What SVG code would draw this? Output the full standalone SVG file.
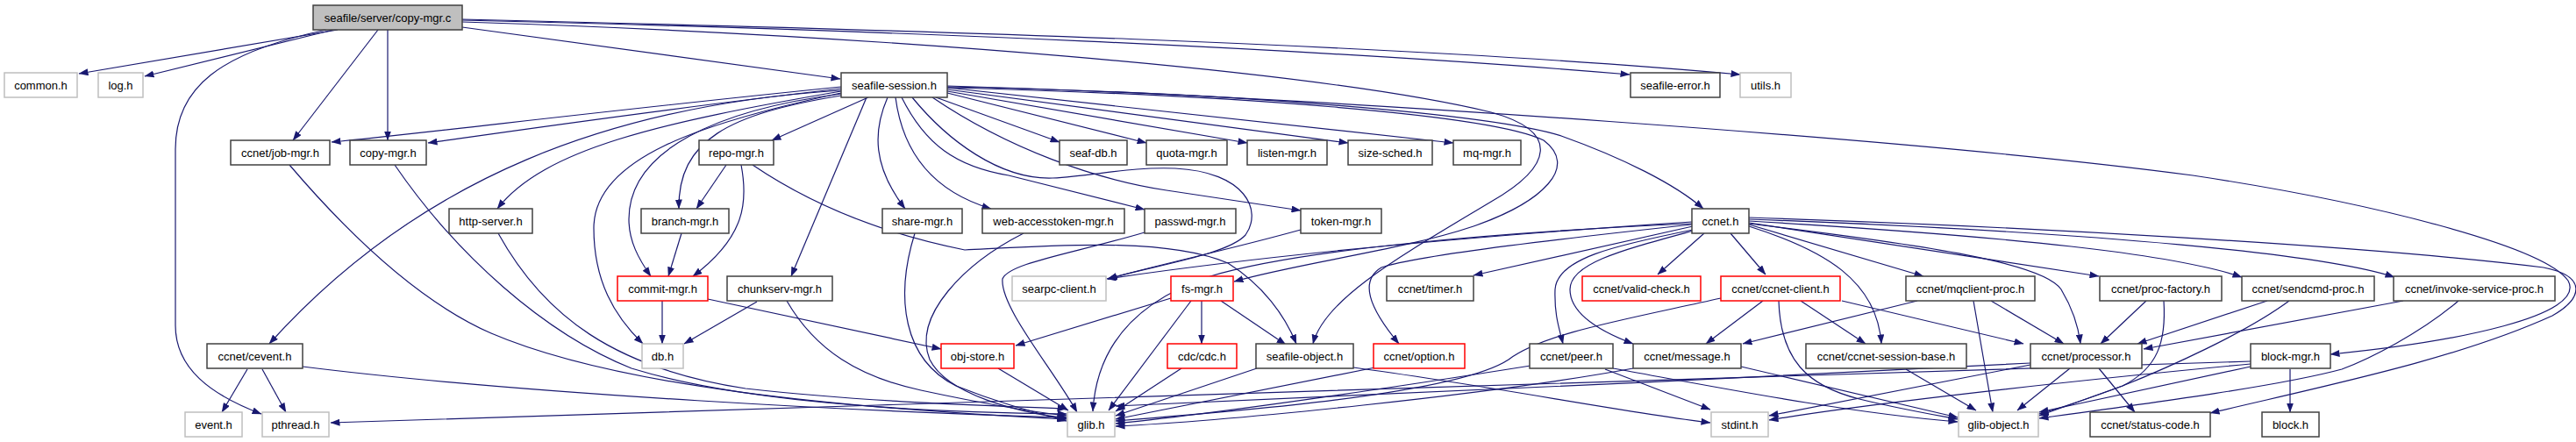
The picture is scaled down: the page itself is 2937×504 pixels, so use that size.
<svg xmlns="http://www.w3.org/2000/svg" width="2937" height="504" viewBox="0 0 2937 504">
<style>
text{font-family:"Liberation Sans",Arial,Helvetica,sans-serif;font-size:13px;text-anchor:middle;fill:#000}
.n rect{fill:#fff;stroke:#404040;stroke-width:1.5}
.g rect{fill:#fff;stroke:#bfbfbf;stroke-width:1.5}
.r rect{fill:#fff;stroke:#ff0000;stroke-width:1.5}
.root rect{fill:#bfbfbf;stroke:#404040;stroke-width:1.5}
#edges path{fill:none;stroke:#191970;stroke-width:1.2;marker-end:url(#ah)}
</style>
<defs>
<marker id="ah" viewBox="0 0 11 8" refX="10.5" refY="4" markerWidth="11" markerHeight="8" markerUnits="userSpaceOnUse" orient="auto">
<path d="M0,0 L11,4 L0,8 z" fill="#191970"/>
</marker>
</defs>
<rect width="2937" height="504" fill="#fff"/>
<g id="edges">
<!-- root -->
<path d="M385,34 L90,84"/>
<path d="M380,34 L165,87"/>
<path d="M372,34 C250,60 200,100 200,170 L200,371 C200,420 240,450 298,472"/>
<path d="M431,34 L334,160"/>
<path d="M442,34 L442,160"/>
<path d="M527,31 L958,90"/>
<path d="M527,22 C1000,33 1600,50 1984,85"/>
<path d="M527,23 C1000,34 1500,55 1858,85"/>
<path d="M527,25 C1000,40 1500,80 1700,128 C1780,150 1770,190 1700,230 C1600,290 1510,340 1497,392"/>
<!-- seafile-session -->
<path d="M959,99 C700,125 500,150 378,162"/>
<path d="M959,101 C750,125 580,150 488,163"/>
<path d="M959,103 C700,120 480,200 307,392"/>
<path d="M959,104 C750,140 620,170 567,238"/>
<path d="M959,106 C800,140 677,180 677,260 C677,320 700,360 733,392"/>
<path d="M959,107 C820,125 717,170 717,250 C717,275 728,295 742,315"/>
<path d="M959,109 C830,130 773,160 774,238"/>
<path d="M990,111 L880,160"/>
<path d="M988,111 L902,315"/>
<path d="M1012,111 C995,150 995,190 1032,238"/>
<path d="M1021,111 C1030,180 1070,220 1130,238"/>
<path d="M1028,111 C1055,165 1090,190 1150,200 L1305,239"/>
<path d="M1040,111 C1080,160 1140,205 1200,203 C1250,200 1290,190 1340,192 C1420,196 1440,240 1420,268 C1400,290 1320,302 1263,318"/>
<path d="M1063,111 C1150,170 1250,205 1330,217 L1483,240"/>
<path d="M1067,111 L1208,162"/>
<path d="M1080,106 L1307,163"/>
<path d="M1080,104 L1422,163"/>
<path d="M1080,102 L1537,163"/>
<path d="M1080,100 L1657,163"/>
<path d="M1080,99 C1400,105 1700,130 1780,155 C1850,180 1910,210 1942,238"/>
<path d="M1080,98 C1500,110 2200,160 2500,200 C2700,230 2900,280 2928,320 C2950,360 2800,390 2657,404"/>
<path d="M1080,100 C1400,108 1700,130 1760,160 C1800,190 1760,230 1680,258 C1600,285 1480,300 1407,321"/>
<!-- ccnet.h -->
<path d="M1929,256 C1800,270 1620,290 1575,305 C1550,320 1560,350 1595,392"/>
<path d="M1929,253 C1700,268 1450,290 1262,318"/>
<path d="M1929,255 C1700,265 1480,285 1380,315 C1290,345 1250,400 1246,469"/>
<path d="M1930,258 L1680,314"/>
<path d="M1943,266 L1890,313"/>
<path d="M1930,262 C1840,280 1775,295 1773,330 C1772,360 1778,375 1782,392"/>
<path d="M1931,263 C1850,285 1790,300 1790,330 C1790,360 1830,380 1862,392"/>
<path d="M1973,266 L2013,313"/>
<path d="M1994,258 C2080,285 2140,320 2145,392"/>
<path d="M1994,256 L2193,315"/>
<path d="M1994,255 C2200,280 2330,300 2350,330 C2365,355 2370,375 2372,392"/>
<path d="M1994,254 L2393,315"/>
<path d="M1994,252 C2300,270 2480,290 2556,316"/>
<path d="M1994,250 C2400,265 2650,290 2730,316"/>
<path d="M1994,248 C2300,258 2700,280 2900,305 C2950,315 2945,340 2910,360 C2800,410 2650,440 2520,471"/>
<!-- level 3/4 -->
<path d="M330,188 C400,270 480,345 560,380 C700,440 950,465 1216,478"/>
<path d="M450,188 C520,290 620,380 720,420 C850,460 1050,470 1216,472"/>
<path d="M568,266 C620,360 700,420 850,443 C1000,460 1150,463 1216,466"/>
<path d="M828,188 L794,238"/>
<path d="M845,188 C853,230 850,270 790,315"/>
<path d="M858,188 C920,230 1000,265 1100,285 C1200,280 1330,270 1400,300 C1440,325 1465,360 1478,392"/>
<path d="M777,266 L762,315"/>
<path d="M755,343 L755,392"/>
<path d="M807,341 L1073,398"/>
<path d="M863,344 L780,392"/>
<path d="M897,343 C930,400 980,430 1050,445 C1120,460 1180,470 1216,474"/>
<path d="M1043,266 C1020,340 1030,410 1090,440 C1140,460 1180,470 1216,480"/>
<path d="M1167,266 C1100,300 1040,360 1060,410 C1080,450 1160,470 1216,477"/>
<path d="M1305,265 C1220,290 1150,300 1143,318 C1140,350 1200,420 1228,470"/>
<path d="M1483,262 C1400,285 1320,302 1263,318"/>
<path d="M1335,340 L1158,394"/>
<path d="M1358,343 L1264,468"/>
<path d="M1370,343 L1370,392"/>
<path d="M1392,343 L1466,393"/>
<path d="M1138,420 L1218,468"/>
<path d="M1347,420 L1272,469"/>
<path d="M1433,420 L1272,474"/>
<path d="M1568,419 L1272,478"/>
<path d="M1745,417 C1600,440 1400,470 1272,483"/>
<path d="M1862,420 C1700,450 1400,480 1272,486"/>
<path d="M1830,421 L1950,467"/>
<path d="M1543,419 C1700,440 1850,470 1950,482"/>
<path d="M1839,420 C1950,440 2100,470 2232,481"/>
<path d="M1985,418 L2232,476"/>
<path d="M1962,340 C1850,365 1760,380 1720,410 C1660,450 1400,470 1272,480"/>
<path d="M2010,343 L1945,392"/>
<path d="M2053,343 L2127,392"/>
<path d="M2100,343 L2307,392"/>
<path d="M2028,343 C2030,410 2060,440 2120,455 C2160,465 2200,472 2232,478"/>
<path d="M2186,343 L1987,392"/>
<path d="M2250,343 L2272,470"/>
<path d="M2270,343 L2353,392"/>
<path d="M2447,343 L2395,392"/>
<path d="M2467,343 C2470,390 2460,420 2420,440 C2380,455 2350,465 2325,472"/>
<path d="M2585,343 L2437,392"/>
<path d="M2610,343 C2560,380 2470,420 2420,440 L2325,474"/>
<path d="M2740,343 L2444,398"/>
<path d="M2803,343 C2760,380 2700,410 2670,421 C2600,440 2450,460 2325,477"/>
<path d="M2173,421 L2253,468"/>
<path d="M2360,420 L2300,468"/>
<path d="M2393,420 L2434,470"/>
<path d="M2315,416 L2017,474"/>
<path d="M2315,414 C2000,430 1500,455 1272,463"/>
<path d="M2611,421 L2611,470"/>
<path d="M2566,412 C2200,425 1500,445 1000,462 C700,472 500,478 377,482"/>
<path d="M2566,415 C2300,440 2100,465 2017,479"/>
<path d="M2566,418 L2325,470"/>
<!-- cevent -->
<path d="M345,418 C600,450 1000,470 1216,476"/>
<path d="M282,421 L253,470"/>
<path d="M299,421 L326,470"/>
</g>
<g id="n_root" class="root"><rect x="357" y="6" width="170" height="28"/><text x="442" y="24.5">seafile/server/copy-mgr.c</text></g>
<g id="n_common" class="g"><rect x="5" y="83" width="83" height="28"/><text x="46.5" y="101.5">common.h</text></g>
<g id="n_log" class="g"><rect x="112" y="83" width="51" height="28"/><text x="137.5" y="101.5">log.h</text></g>
<g id="n_session" class="n"><rect x="959" y="83" width="121" height="28"/><text x="1019.5" y="101.5">seafile-session.h</text></g>
<g id="n_error" class="n"><rect x="1859" y="83" width="102" height="28"/><text x="1910" y="101.5">seafile-error.h</text></g>
<g id="n_utils" class="g"><rect x="1984" y="83" width="58" height="28"/><text x="2013" y="101.5">utils.h</text></g>
<g id="n_jobmgr" class="n"><rect x="263" y="160" width="113" height="28"/><text x="319.5" y="178.5">ccnet/job-mgr.h</text></g>
<g id="n_copymgr" class="n"><rect x="399" y="160" width="87" height="28"/><text x="442.5" y="178.5">copy-mgr.h</text></g>
<g id="n_repomgr" class="n"><rect x="797" y="160" width="85" height="28"/><text x="839.5" y="178.5">repo-mgr.h</text></g>
<g id="n_seafdb" class="n"><rect x="1208" y="160" width="77" height="28"/><text x="1246.5" y="178.5">seaf-db.h</text></g>
<g id="n_quota" class="n"><rect x="1307" y="160" width="92" height="28"/><text x="1353" y="178.5">quota-mgr.h</text></g>
<g id="n_listen" class="n"><rect x="1422" y="160" width="91" height="28"/><text x="1467.5" y="178.5">listen-mgr.h</text></g>
<g id="n_sizesched" class="n"><rect x="1537" y="160" width="96" height="28"/><text x="1585" y="178.5">size-sched.h</text></g>
<g id="n_mqmgr" class="n"><rect x="1657" y="160" width="77" height="28"/><text x="1695.5" y="178.5">mq-mgr.h</text></g>
<g id="n_http" class="n"><rect x="512" y="238" width="95" height="28"/><text x="559.5" y="256.5">http-server.h</text></g>
<g id="n_branch" class="n"><rect x="731" y="238" width="100" height="28"/><text x="781" y="256.5">branch-mgr.h</text></g>
<g id="n_share" class="n"><rect x="1006" y="238" width="91" height="28"/><text x="1051.5" y="256.5">share-mgr.h</text></g>
<g id="n_webtok" class="n"><rect x="1120" y="238" width="162" height="28"/><text x="1201" y="256.5">web-accesstoken-mgr.h</text></g>
<g id="n_passwd" class="n"><rect x="1305" y="238" width="104" height="28"/><text x="1357" y="256.5">passwd-mgr.h</text></g>
<g id="n_token" class="n"><rect x="1483" y="238" width="92" height="28"/><text x="1529" y="256.5">token-mgr.h</text></g>
<g id="n_ccnet" class="n"><rect x="1929" y="238" width="65" height="28"/><text x="1961.5" y="256.5">ccnet.h</text></g>
<g id="n_commit" class="r"><rect x="704" y="315" width="103" height="28"/><text x="755.5" y="333.5">commit-mgr.h</text></g>
<g id="n_chunk" class="n"><rect x="829" y="315" width="120" height="28"/><text x="889" y="333.5">chunkserv-mgr.h</text></g>
<g id="n_searpc" class="g"><rect x="1154" y="315" width="107" height="28"/><text x="1207.5" y="333.5">searpc-client.h</text></g>
<g id="n_fsmgr" class="r"><rect x="1335" y="315" width="71" height="28"/><text x="1370.5" y="333.5">fs-mgr.h</text></g>
<g id="n_timer" class="n"><rect x="1581" y="315" width="99" height="28"/><text x="1630.5" y="333.5">ccnet/timer.h</text></g>
<g id="n_valid" class="r"><rect x="1804" y="315" width="135" height="28"/><text x="1871.5" y="333.5">ccnet/valid-check.h</text></g>
<g id="n_client" class="r"><rect x="1962" y="315" width="136" height="28"/><text x="2030" y="333.5">ccnet/ccnet-client.h</text></g>
<g id="n_mqclient" class="n"><rect x="2173" y="315" width="147" height="28"/><text x="2246.5" y="333.5">ccnet/mqclient-proc.h</text></g>
<g id="n_procfac" class="n"><rect x="2394" y="315" width="139" height="28"/><text x="2463.5" y="333.5">ccnet/proc-factory.h</text></g>
<g id="n_sendcmd" class="n"><rect x="2556" y="315" width="151" height="28"/><text x="2631.5" y="333.5">ccnet/sendcmd-proc.h</text></g>
<g id="n_invoke" class="n"><rect x="2729" y="315" width="184" height="28"/><text x="2821" y="333.5">ccnet/invoke-service-proc.h</text></g>
<g id="n_cevent" class="n"><rect x="236" y="392" width="109" height="28"/><text x="290.5" y="410.5">ccnet/cevent.h</text></g>
<g id="n_db" class="g"><rect x="732" y="392" width="47" height="28"/><text x="755.5" y="410.5">db.h</text></g>
<g id="n_objstore" class="r"><rect x="1073" y="392" width="83" height="28"/><text x="1114.5" y="410.5">obj-store.h</text></g>
<g id="n_cdc" class="r"><rect x="1331" y="392" width="79" height="28"/><text x="1370.5" y="410.5">cdc/cdc.h</text></g>
<g id="n_seafobj" class="n"><rect x="1432" y="392" width="111" height="28"/><text x="1487.5" y="410.5">seafile-object.h</text></g>
<g id="n_option" class="r"><rect x="1566" y="392" width="104" height="28"/><text x="1618" y="410.5">ccnet/option.h</text></g>
<g id="n_peer" class="n"><rect x="1744" y="392" width="95" height="28"/><text x="1791.5" y="410.5">ccnet/peer.h</text></g>
<g id="n_message" class="n"><rect x="1862" y="392" width="123" height="28"/><text x="1923.5" y="410.5">ccnet/message.h</text></g>
<g id="n_sessbase" class="n"><rect x="2059" y="392" width="183" height="28"/><text x="2150.5" y="410.5">ccnet/ccnet-session-base.h</text></g>
<g id="n_processor" class="n"><rect x="2315" y="392" width="127" height="28"/><text x="2378.5" y="410.5">ccnet/processor.h</text></g>
<g id="n_blockmgr" class="n"><rect x="2566" y="392" width="91" height="28"/><text x="2611.5" y="410.5">block-mgr.h</text></g>
<g id="n_event" class="g"><rect x="211" y="470" width="65" height="28"/><text x="243.5" y="488.5">event.h</text></g>
<g id="n_pthread" class="g"><rect x="299" y="470" width="76" height="28"/><text x="337" y="488.5">pthread.h</text></g>
<g id="n_glib" class="g"><rect x="1217" y="470" width="54" height="28"/><text x="1244" y="488.5">glib.h</text></g>
<g id="n_stdint" class="g"><rect x="1951" y="470" width="65" height="28"/><text x="1983.5" y="488.5">stdint.h</text></g>
<g id="n_gobject" class="g"><rect x="2233" y="470" width="91" height="28"/><text x="2278.5" y="488.5">glib-object.h</text></g>
<g id="n_status" class="n"><rect x="2383" y="470" width="137" height="28"/><text x="2451.5" y="488.5">ccnet/status-code.h</text></g>
<g id="n_block" class="n"><rect x="2579" y="470" width="65" height="28"/><text x="2611.5" y="488.5">block.h</text></g>
</svg>
